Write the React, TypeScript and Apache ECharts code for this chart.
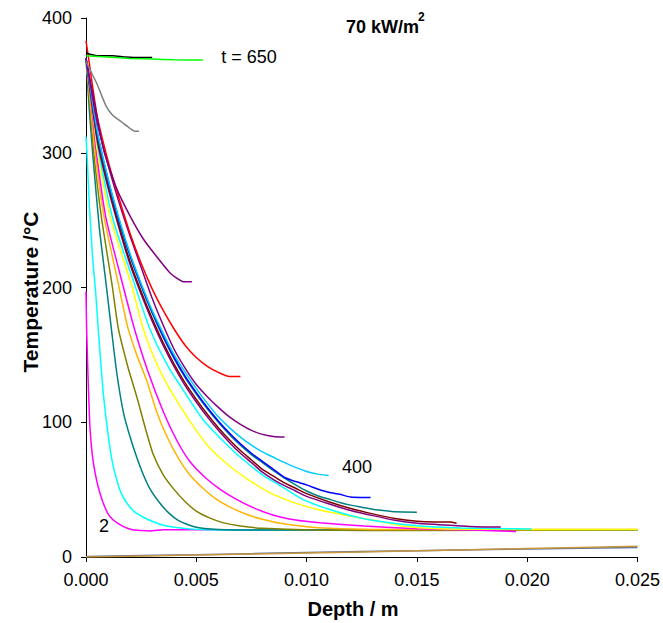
import React, { useEffect, useRef } from "react";
import * as echarts from "echarts";

// Temperature profiles [depth (m), temperature (°C)]
const lowBlue = [[0,0.3],[0.005,1.7],[0.01,3.3],[0.015,4.7],[0.02,6],[0.025,7]];
const lowBrown = [[0,0],[0.005,1.4],[0.01,3],[0.015,4.6],[0.02,6.3],[0.025,8]];
const magentaT2 = [[0,197],[0.00003,168],[0.0001,130],[0.00018,96],[0.0003,74],[0.00048,57],[0.00062,48],[0.00078,40],[0.001,32],[0.0012,28],[0.0014,25.5],[0.0017,22.5],[0.0021,20.2],[0.0025,19.6],[0.0029,19.3],[0.0035,20.2],[0.005,20.3],[0.01,20.3],[0.015,20.3],[0.02,20.3]];
const cyanA = [[0,312],[0.00005,298],[0.00015,262],[0.0003,222],[0.00044,196],[0.00056,168],[0.00068,142],[0.00078,122],[0.0009,104],[0.00105,85],[0.0012,70],[0.0014,57],[0.0016,47],[0.0019,39],[0.0022,33.5],[0.0026,29.5],[0.003,26.5],[0.0035,23.5],[0.004,22],[0.005,20.5],[0.006,20],[0.01,20],[0.025,20]];
const tealA = [[0,370],[0.00015,332],[0.0003,300],[0.0006,245],[0.00093,200],[0.00116,168],[0.0014,136],[0.0017,107],[0.002,89],[0.0023,74],[0.0026,61],[0.0029,50.5],[0.0033,41],[0.0037,33.5],[0.0042,27],[0.0049,22.5],[0.006,20.5],[0.008,20],[0.025,20]];
const olive = [[0,370],[0.0002,332],[0.00035,300],[0.0007,252],[0.0012,200],[0.00146,170],[0.0019,141],[0.0023,119],[0.0027,95],[0.00305,76],[0.0035,61],[0.004,50],[0.0045,41],[0.005,34],[0.0056,29],[0.0062,25.5],[0.007,23],[0.008,21.3],[0.0103,20],[0.015,19.6],[0.025,20.2]];
const orange = [[0,370],[0.0002,336],[0.0004,302],[0.0008,254],[0.0015,200],[0.0019,170],[0.0023,150],[0.00275,131],[0.0032,108],[0.00365,90],[0.0042,73],[0.0047,61],[0.0053,51],[0.0059,43],[0.0066,36.5],[0.0073,31.5],[0.008,28],[0.0088,25],[0.01,22.5],[0.011,21.3],[0.013,20.5],[0.025,20.4]];
const magentaB = [[0,370],[0.00025,336],[0.00045,303],[0.0009,252],[0.0017,200],[0.0022,169],[0.0028,138],[0.0035,108],[0.0041,87],[0.0047,71],[0.0054,59],[0.0061,50],[0.0068,43],[0.0076,36.5],[0.0085,31],[0.0095,27.5],[0.0106,25.5],[0.0126,23],[0.015,21],[0.0175,20],[0.0195,19]];
const yellow = [[0,370],[0.0003,332],[0.0005,303],[0.0011,252],[0.0021,200],[0.0026,169],[0.0033,140],[0.004,119],[0.0047,101],[0.0055,83],[0.0064,69],[0.0073,58],[0.0083,48],[0.0095,40],[0.0107,34.5],[0.0121,30],[0.013,27.5],[0.0144,22.8],[0.016,21],[0.02,20.5],[0.025,20.5]];
const cyanB = [[0,370],[0.0003,336],[0.00055,303],[0.0012,252],[0.00225,200],[0.0029,169],[0.0037,142],[0.0046,119],[0.0053,102],[0.0061,88],[0.007,74],[0.008,61],[0.0088,53],[0.0098,43],[0.0113,34],[0.0129,27.5],[0.015,23.2],[0.017,21.5],[0.0202,20.8]];
const purpleC = [[0,370],[0.0005,310],[0.001,274],[0.0015,244],[0.002,217],[0.0025,195],[0.003,175],[0.0035,157],[0.004,141],[0.0045,127],[0.005,115],[0.0055,104],[0.006,94],[0.0065,85],[0.007,77],[0.0075,70],[0.008,63],[0.0085,57.5],[0.009,53],[0.0095,49],[0.01,45],[0.011,39.5],[0.012,34.5],[0.013,30.7],[0.014,27.3],[0.015,25],[0.016,24],[0.017,23],[0.018,22.3],[0.0188,22.3]];
const maroon = [[0,370],[0.0005,312],[0.001,276],[0.0015,246],[0.002,219],[0.0025,197],[0.003,177],[0.0035,159],[0.004,143],[0.0045,129],[0.005,117],[0.0055,106],[0.006,96],[0.0065,87],[0.007,79],[0.0075,72],[0.008,65],[0.0085,60],[0.009,55],[0.0095,51],[0.01,47],[0.011,41],[0.012,36],[0.013,32],[0.014,28.5],[0.015,26.5],[0.0158,26],[0.0165,26],[0.0168,25]];
const tealB = [[0,370],[0.0005,315],[0.001,279],[0.0015,249],[0.002,223],[0.0025,201],[0.003,181],[0.0035,163],[0.004,147],[0.0045,133],[0.005,121],[0.0055,110],[0.006,100],[0.0065,91],[0.007,83],[0.0075,76],[0.008,70],[0.0085,64],[0.009,58.5],[0.0095,53.5],[0.01,49],[0.0105,45.5],[0.011,43],[0.0115,40.5],[0.012,38.5],[0.0125,37],[0.013,35.5],[0.0135,34.5],[0.014,33.5],[0.015,33.2]];
const blue = [[0,370],[0.0005,316],[0.001,280],[0.0015,250],[0.002,224],[0.0025,202],[0.003,182],[0.0035,164],[0.004,148],[0.0045,134],[0.005,122],[0.0055,111],[0.006,101],[0.0065,92],[0.007,84],[0.0075,77],[0.008,71],[0.0085,65],[0.009,59],[0.0095,56],[0.01,53.5],[0.0105,50.5],[0.011,48],[0.0115,46.5],[0.012,44.5],[0.0125,44.2],[0.0129,44.2]];
const skyBlueT400 = [[0,370],[0.0005,317],[0.001,281],[0.0015,251],[0.002,225],[0.0025,203],[0.003,183],[0.0035,166],[0.004,150],[0.0045,137],[0.005,125],[0.0055,114],[0.006,104],[0.0065,96],[0.007,89],[0.0075,83],[0.008,78],[0.0085,74],[0.009,70],[0.0095,66.5],[0.01,63.5],[0.0105,61.5],[0.011,60.5]];
const purpleB = [[0,370],[0.0005,323],[0.001,291],[0.0015,263],[0.002,238],[0.0025,215],[0.003,192],[0.0035,172],[0.004,154],[0.0045,140],[0.005,128],[0.0055,119],[0.006,111],[0.0065,104],[0.007,98.5],[0.0075,94],[0.008,91],[0.0085,89.5],[0.009,89]];
const red = [[0,383],[0.0001,372],[0.0005,328],[0.001,294],[0.0015,266],[0.002,240],[0.0025,218],[0.003,199],[0.0035,183],[0.004,169],[0.0045,157],[0.005,148],[0.0055,141.5],[0.006,137],[0.0065,134],[0.007,134]];
const purpleA = [[0,370],[0.00036,339],[0.0008,302],[0.0014,273],[0.002,253],[0.0026,236],[0.0032,223],[0.0038,211],[0.0042,206],[0.0044,204.3],[0.0048,204.3]];
const gray = [[0,368],[0.0002,361],[0.0005,351],[0.0009,335],[0.0012,328],[0.0016,323],[0.002,318],[0.0022,316],[0.0024,316]];
const black = [[0,374],[0.0005,372],[0.0012,372],[0.0018,371],[0.0025,370.6],[0.003,370.6]];
const greenT650 = [[0,372],[0.001,371],[0.002,370],[0.003,369.5],[0.004,369],[0.0053,368.8]];

const seriesList: [number[][], string][] = [
  [lowBlue, "#5a6e9b"],
  [lowBrown, "#c8963c"],
  [magentaT2, "#ff00ff"],
  [cyanA, "#00ffff"],
  [tealA, "#008080"],
  [olive, "#808000"],
  [orange, "#ffb400"],
  [magentaB, "#ff00ff"],
  [yellow, "#ffff00"],
  [cyanB, "#00ffff"],
  [purpleC, "#800080"],
  [maroon, "#800000"],
  [tealB, "#008080"],
  [blue, "#0000ff"],
  [skyBlueT400, "#00ccff"],
  [purpleB, "#800080"],
  [red, "#ff0000"],
  [purpleA, "#800080"],
  [gray, "#808080"],
  [black, "#000000"],
  [greenT650, "#00ff00"],
];

const FONT = '"Liberation Sans", Arial, sans-serif';

export default function App() {
  const ref = useRef<HTMLDivElement>(null);
  useEffect(() => {
    if (!ref.current) return;
    const chart = echarts.init(ref.current, null, { renderer: "svg" });
    chart.setOption({
      animation: false,
      backgroundColor: "#ffffff",
      grid: { left: 86, right: 25, top: 18, bottom: 66, containLabel: false },
      xAxis: {
        type: "value",
        min: 0,
        max: 0.025,
        interval: 0.005,
        axisLine: { show: true, onZero: false, lineStyle: { color: "#000", width: 1 } },
        axisTick: { show: true, inside: false, length: 5, lineStyle: { color: "#000" } },
        axisLabel: {
          color: "#000",
          fontSize: 18,
          fontFamily: FONT,
          margin: 14,
          formatter: (v: number) => v.toFixed(3),
        },
        splitLine: { show: false },
      },
      yAxis: {
        type: "value",
        min: 0,
        max: 400,
        interval: 100,
        axisLine: { show: true, onZero: false, lineStyle: { color: "#000", width: 1 } },
        axisTick: { show: true, inside: false, length: 5, lineStyle: { color: "#000" } },
        axisLabel: { color: "#000", fontSize: 18, fontFamily: FONT, margin: 14 },
        splitLine: { show: false },
      },
      series: seriesList.map(([data, color]) => ({
        type: "line",
        data,
        showSymbol: false,
        symbol: "none",
        smooth: 0.2,
        lineStyle: { color, width: 1.5 },
        silent: true,
      })),
      graphic: [
        {
          type: "text",
          x: 30,
          y: 292,
          rotation: Math.PI / 2,
          style: {
            text: "Temperature /°C",
            font: `bold 21px ${FONT}`,
            fill: "#000",
            align: "center",
            verticalAlign: "middle",
            textAlign: "center",
            textVerticalAlign: "middle",
          },
        },
        {
          type: "text",
          x: 353,
          y: 609,
          style: {
            text: "Depth / m",
            font: `bold 20px ${FONT}`,
            fill: "#000",
            align: "center",
            verticalAlign: "middle",
            textAlign: "center",
            textVerticalAlign: "middle",
          },
        },
        {
          type: "text",
          x: 346,
          y: 27,
          style: {
            text: "70 kW/m",
            font: `bold 18px ${FONT}`,
            fill: "#000",
            align: "left",
            verticalAlign: "middle",
            textAlign: "left",
            textVerticalAlign: "middle",
          },
        },
        {
          type: "text",
          x: 418,
          y: 17,
          style: {
            text: "2",
            font: `bold 12px ${FONT}`,
            fill: "#000",
            align: "left",
            verticalAlign: "middle",
            textAlign: "left",
            textVerticalAlign: "middle",
          },
        },
        {
          type: "text",
          x: 249,
          y: 57,
          style: {
            text: "t = 650",
            font: `18px ${FONT}`,
            fill: "#000",
            align: "center",
            verticalAlign: "middle",
            textAlign: "center",
            textVerticalAlign: "middle",
          },
        },
        {
          type: "text",
          x: 357,
          y: 467,
          style: {
            text: "400",
            font: `18px ${FONT}`,
            fill: "#000",
            align: "center",
            verticalAlign: "middle",
            textAlign: "center",
            textVerticalAlign: "middle",
          },
        },
        {
          type: "text",
          x: 104,
          y: 526,
          style: {
            text: "2",
            font: `18px ${FONT}`,
            fill: "#000",
            align: "center",
            verticalAlign: "middle",
            textAlign: "center",
            textVerticalAlign: "middle",
          },
        },
      ],
    });
    return () => chart.dispose();
  }, []);
  return (
    <div
      ref={ref}
      style={{ position: "fixed", left: 0, top: 0, width: 663, height: 623, background: "#fff" }}
    />
  );
}
